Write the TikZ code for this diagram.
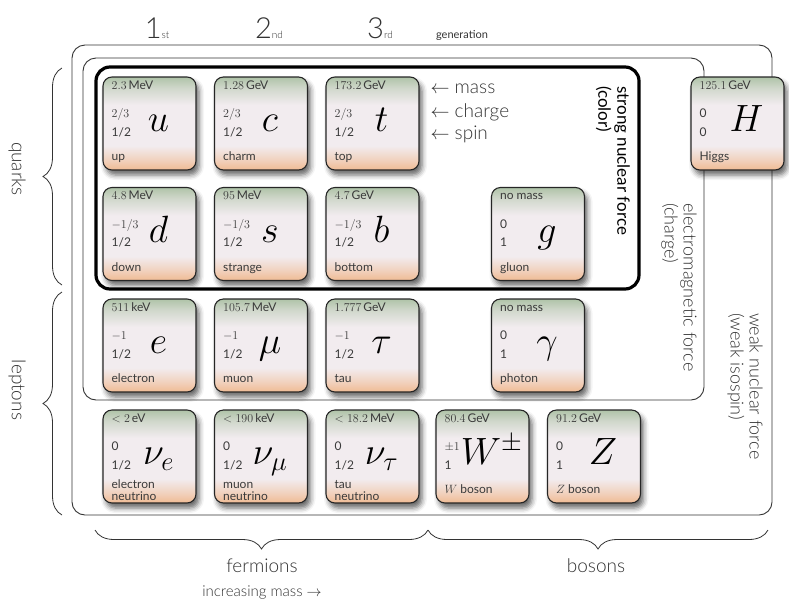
\RequirePackage{fix-cm}
\documentclass[tikz,border=0pt]{standalone}
\usepackage{fontspec}
\newfontfamily\lato{Lato}
\newfontfamily\latolt{Lato Light}
\usetikzlibrary{shadows.blur,decorations.pathreplacing}
\definecolor{cellgreen}{HTML}{AFC3A8}
\definecolor{cellmid}{HTML}{F2ECEF}
\definecolor{cellorange}{HTML}{F0BB94}
\definecolor{celltext}{HTML}{3A3A3A}
\definecolor{labelgray}{HTML}{333333}
\colorlet{cellorangelt}{cellorange!50!cellmid}
\colorlet{cellgreenlt}{cellgreen!50!cellmid}
\pgfdeclareverticalshading{cellfade}{100bp}{color(0bp)=(cellorange); color(25bp)=(cellorange);
  color(31bp)=(cellorangelt); color(38bp)=(cellmid); color(60bp)=(cellmid);
  color(69bp)=(cellgreenlt); color(75bp)=(cellgreen); color(100bp)=(cellgreen)}

% one particle cell: name, centre, mass, charge, spin, symbol, label
\newcommand{\partcell}[7]{%
  \node[cell] (#1) at (#2) {};
  \node[massl] (#1m) at ([xshift=9pt,yshift=-13pt]#1.north west) {#3};
  \node[qnum] (#1q) at ([xshift=9pt,yshift=6pt]#1.west) {#4};
  \node[qnum] (#1s) at ([xshift=9pt,yshift=-12.5pt]#1.west) {\lato #5};
  \node[symb] (#1y) at ([xshift=9pt,yshift=-8pt]#1.center) {#6};
  \node[namel] (#1n) at ([xshift=9pt,yshift=10pt]#1.south west) {#7};
}

\begin{document}
\begin{tikzpicture}[x=1pt,y=-1pt,
  cell/.style={rectangle, draw=black!85, line width=1.1pt, rounded corners=9pt,
               minimum width=93pt, minimum height=93pt, inner sep=0pt, shading=cellfade,
               blur shadow={shadow xshift=3pt, shadow yshift=-5pt, shadow blur radius=5pt,
                            shadow opacity=60}},
  massl/.style={font=\fontsize{12}{13}\selectfont, text=celltext, inner sep=0pt, anchor=base west},
  qnum/.style={font=\fontsize{12}{13}\selectfont, text=celltext, inner sep=0pt, anchor=base west},
  namel/.style={font=\lato\fontsize{12}{12}\selectfont, text=celltext, inner sep=0pt, anchor=base west},
  symb/.style={font=\fontsize{38}{40}\selectfont, inner sep=0pt, anchor=base},
  forcebox/.style={draw=black!80, line width=0.9pt, rounded corners=13pt},
  strongbox/.style={draw=black, line width=3.2pt, rounded corners=14pt},
  bigl/.style={font=\latolt\fontsize{19}{21}\selectfont, text=labelgray},
  sidel/.style={font=\latolt\fontsize{18}{19}\selectfont, text=labelgray, align=left,
                rotate=-90, anchor=north west, inner sep=0pt},
  brc/.style={draw=black!80, line width=0.8pt, decorate, decoration={brace, amplitude=19pt}}
]
\useasboundingbox (0,0) rectangle (789,603);

%--- Force boxes ---
\draw[forcebox] (72,45) rectangle (772,515);
\draw[forcebox] (83,58) rectangle (704,400);
\draw[strongbox] (96,67) rectangle (639,289);

%--- Generations ---
\node[bigl, font=\latolt\fontsize{29}{30}\selectfont, anchor=base] (gen1) at (157,38)
  {1{\fontsize{10}{11}\selectfont st}};
\node[bigl, font=\latolt\fontsize{29}{30}\selectfont, anchor=base] (gen2) at (269,38)
  {2{\fontsize{10}{11}\selectfont nd}};
\node[bigl, font=\latolt\fontsize{29}{30}\selectfont, anchor=base] (gen3) at (380,38)
  {3{\fontsize{10}{11}\selectfont rd}};
\node[bigl, font=\lato\fontsize{11}{12}\selectfont, anchor=base] (genL) at (462,38) {generation};

%--- Quarks ---
\partcell{u}{149.5,123.5}{2.3\,\lato MeV}{$2/3$}{1/2}{$u$}{up}
\partcell{c}{261,123.5}{1.28\,\lato GeV}{$2/3$}{1/2}{$c$}{charm}
\partcell{t}{372.5,123.5}{173.2\,\lato GeV}{$2/3$}{1/2}{$t$}{top}
\partcell{d}{149.5,234}{4.8\,\lato MeV}{$-1/3$}{1/2}{$d$}{down}
\partcell{s}{261,234}{95\,\lato MeV}{$-1/3$}{1/2}{$s$}{strange}
\partcell{b}{372.5,234}{4.7\,\lato GeV}{$-1/3$}{1/2}{$b$}{bottom}

%--- Leptons ---
\partcell{e}{149.5,345.5}{511\,\lato keV}{$-1$}{1/2}{$e$}{electron}
\partcell{mu}{261,345.5}{105.7\,\lato MeV}{$-1$}{1/2}{$\mu$}{muon}
\partcell{tau}{372.5,345.5}{1.777\,\lato GeV}{$-1$}{1/2}{$\tau$}{tau}
\partcell{nue}{149.5,456.5}{$<2$\,\lato eV}{\lato 0}{1/2}{$\nu_e$}
  {\raisebox{-7pt}{\shortstack[l]{electron\\neutrino}}}
\partcell{numu}{261,456.5}{$<190$\,\lato keV}{\lato 0}{1/2}{$\nu_\mu$}
  {\raisebox{-7pt}{\shortstack[l]{muon\\neutrino}}}
\partcell{nutau}{372.5,456.5}{$<18.2$\,\lato MeV}{\lato 0}{1/2}{$\nu_\tau$}
  {\raisebox{-7pt}{\shortstack[l]{tau\\neutrino}}}

%--- Bosons ---
\partcell{g}{538,234}{\lato no mass}{\lato 0}{1}{$g$}{gluon}
\partcell{gam}{538,345.5}{\lato no mass}{\lato 0}{1}{$\gamma$}{photon}
\partcell{W}{482.5,456.5}{80.4\,\lato GeV}{$\pm1$}{1}{$W^{\pm}$}{$W$ boson}
\partcell{Z}{594,456.5}{91.2\,\lato GeV}{\lato 0}{1}{$Z$}{$Z$ boson}
\partcell{H}{737.5,123.5}{125.1\,\lato GeV}{\lato 0}{0}{$H$}{Higgs}

%--- Key ---
\node[bigl, anchor=base west] (massL) at (427,93) {$\leftarrow$ mass};
\node[bigl, anchor=base west] (chargeL) at (427,117) {$\leftarrow$ charge};
\node[bigl, anchor=base west] (spinL) at (427,139) {$\leftarrow$ spin};

%--- Force labels ---
\node[sidel, font=\lato\fontsize{17}{19}\selectfont, text=black] (strongL) at (630,86)
  {strong nuclear force\\(color)};
\node[sidel] (emL) at (697,203) {electromagnetic force\\(charge)};
\node[sidel] (weakL) at (763,313) {weak nuclear force\\(weak isospin)};

%--- Braces ---
\draw[brc] (62,285) -- (62,68);
\draw[brc] (62,515) -- (62,292);
\node[bigl, rotate=-90] (quarksL) at (17,169) {quarks};
\node[bigl, rotate=-90] (leptonsL) at (17,390) {leptons};
\draw[brc] (428,530) -- (95,530);
\draw[brc] (768,530) -- (428,530);
\node[bigl, anchor=base] (fermL) at (262,572) {fermions};
\node[bigl, anchor=base] (bosL) at (596,572) {bosons};
\node[bigl, font=\latolt\fontsize{15}{17}\selectfont, anchor=base] (incL) at (262,596)
  {increasing mass $\rightarrow$};
\end{tikzpicture}
\end{document}
